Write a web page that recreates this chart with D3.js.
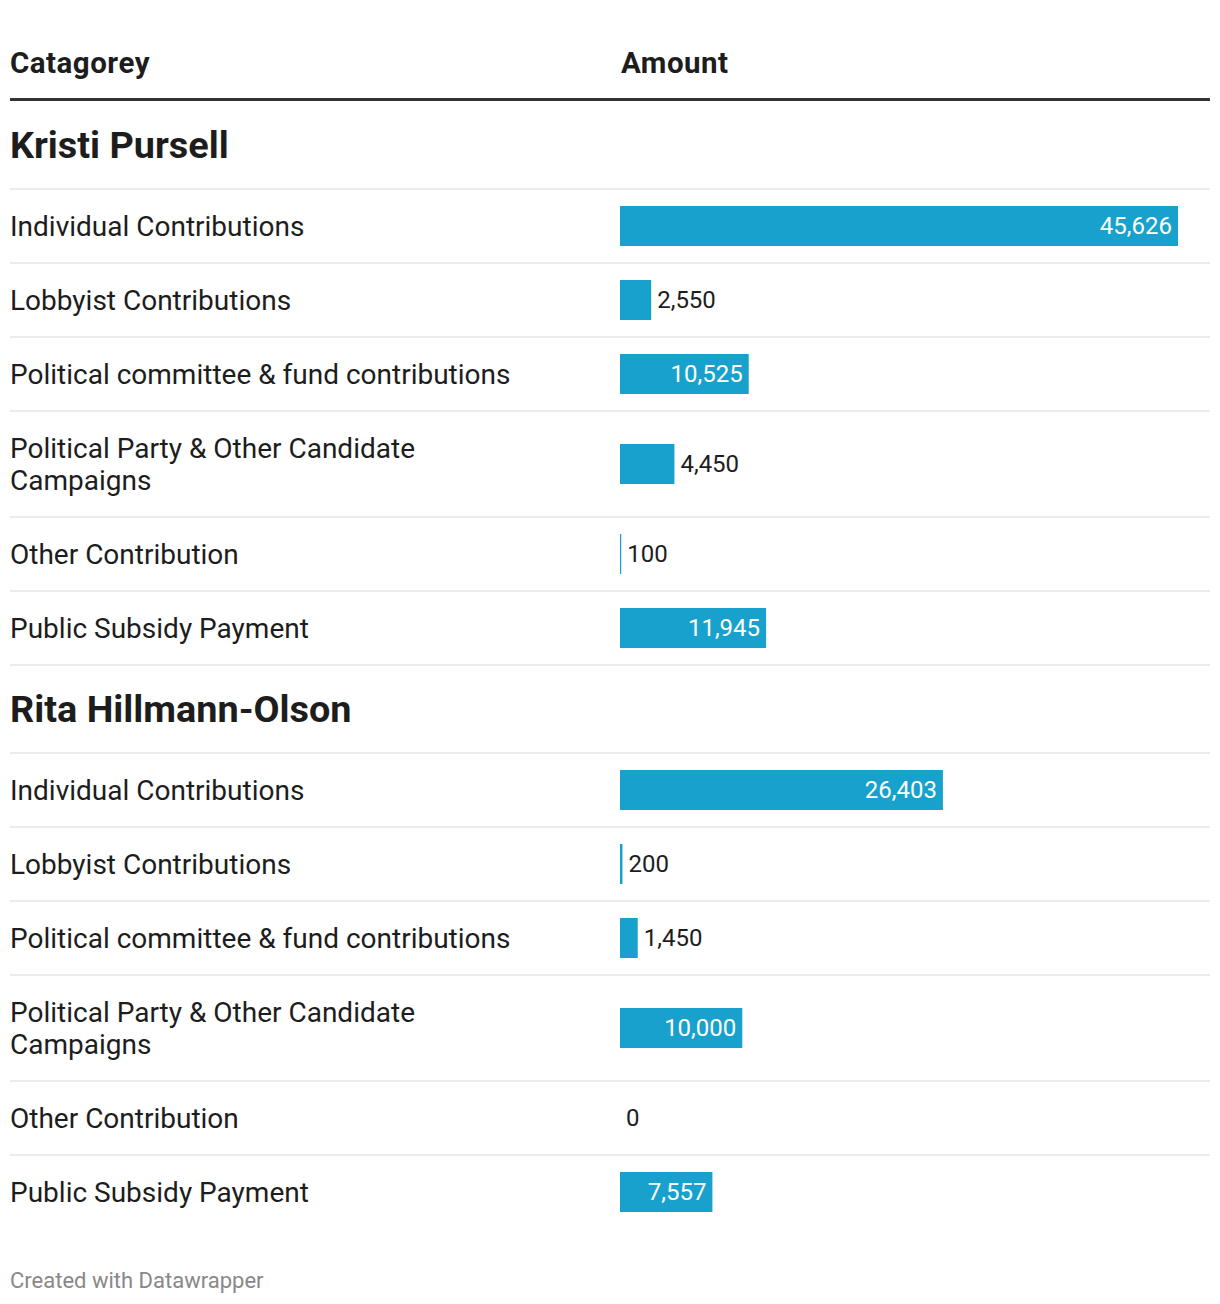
<!DOCTYPE html>
<html><head><meta charset="utf-8">
<script src="https://cdn.jsdelivr.net/npm/d3@7"></script>
<style>
html,body{margin:0;padding:0;background:#fff;}
svg{display:block;font-family:Roboto,"Noto Sans",sans-serif;}
</style></head>
<body><svg id="chart" width="1220" height="1304"></svg>
<script>
const headers = ["Catagorey", "Amount"];
const groups = ["Kristi Pursell", "Rita Hillmann-Olson"];
const categories = ["Individual Contributions", "Lobbyist Contributions", "Political committee & fund contributions", "Political Party & Other Candidate Campaigns", "Other Contribution", "Public Subsidy Payment"];
const pursellValues = [45626, 2550, 10525, 4450, 100, 11945];
const hillmannValues = [26403, 200, 1450, 10000, 0, 7557];
const footer = "Created with Datawrapper";

const seriesByGroup = [pursellValues, hillmannValues];
const svg = d3.select("#chart");
const left = 10, right = 1210, barX = 620;
const textColor = "#1d1d1d", barColor = "#18a1cd";
const fmt = d3.format(",");

const x = d3.scaleLinear().domain([0, d3.max(pursellValues.concat(hillmannValues))]).range([barX, 1178]);

// header
svg.append("text").attr("x", left).attr("y", 73).text(headers[0])
  .attr("font-size", 29.5).attr("font-weight", 700).attr("letter-spacing", 0.5).attr("fill", textColor);
svg.append("text").attr("x", barX + 1).attr("y", 73).text(headers[1])
  .attr("font-size", 29.5).attr("font-weight", 700).attr("letter-spacing", 0.5).attr("fill", textColor);
svg.append("rect").attr("x", left).attr("y", 98).attr("width", right - left).attr("height", 3).attr("fill", "#333");

function wrap(textSel, maxW) {
  const words = textSel.text().split(" ");
  textSel.text(null);
  const lines = [];
  let line = [];
  const probe = textSel.append("tspan");
  for (const w of words) {
    line.push(w);
    probe.text(line.join(" "));
    if (probe.node().getComputedTextLength() > maxW && line.length > 1) {
      line.pop(); lines.push(line.join(" ")); line = [w];
    }
  }
  lines.push(line.join(" "));
  probe.remove();
  return lines;
}

let y = 101;
const lineH = 32, baseRow = 74;
groups.forEach((g, gi) => {
  svg.append("text").attr("x", left).attr("y", y + 57).text(g)
    .attr("font-size", 37.8).attr("font-weight", 700).attr("fill", textColor);
  y += 88;
  const vals = seriesByGroup[gi];
  categories.forEach((c, ci) => {
    svg.append("rect").attr("x", left).attr("y", y - 1).attr("width", right - left).attr("height", 2).attr("fill", "#ececec");
    const t = svg.append("text").attr("x", left).attr("font-size", 28).attr("fill", textColor).text(c);
    const lines = wrap(t, 530);
    const rowH = baseRow + (lines.length - 1) * lineH;
    const cy = y + rowH / 2;
    lines.forEach((ln, li) => {
      t.append("tspan").attr("x", left)
        .attr("y", cy + (li - (lines.length - 1) / 2) * lineH)
        .attr("dy", "0.35em").text(ln);
    });
    const v = vals[ci];
    const w = x(v) - x(0);
    svg.append("rect").attr("x", x(0)).attr("y", cy - 20).attr("width", w).attr("height", 40).attr("fill", barColor);
    const lbl = svg.append("text").attr("font-size", 24).attr("y", cy).attr("dy", "0.35em").text(fmt(v));
    const tw = lbl.node().getComputedTextLength();
    if (tw + 14 < w) {
      lbl.attr("x", x(v) - 6).attr("text-anchor", "end").attr("fill", "#fff");
    } else {
      lbl.attr("x", x(v) + 6).attr("text-anchor", "start").attr("fill", textColor);
    }
    y += rowH;
  });
  if (gi < groups.length - 1) {
    svg.append("rect").attr("x", left).attr("y", y - 1).attr("width", right - left).attr("height", 2).attr("fill", "#ececec");
  }
});

svg.append("text").attr("x", left).attr("y", 1288).text(footer)
  .attr("font-size", 22).attr("fill", "#888");
</script></body></html>
